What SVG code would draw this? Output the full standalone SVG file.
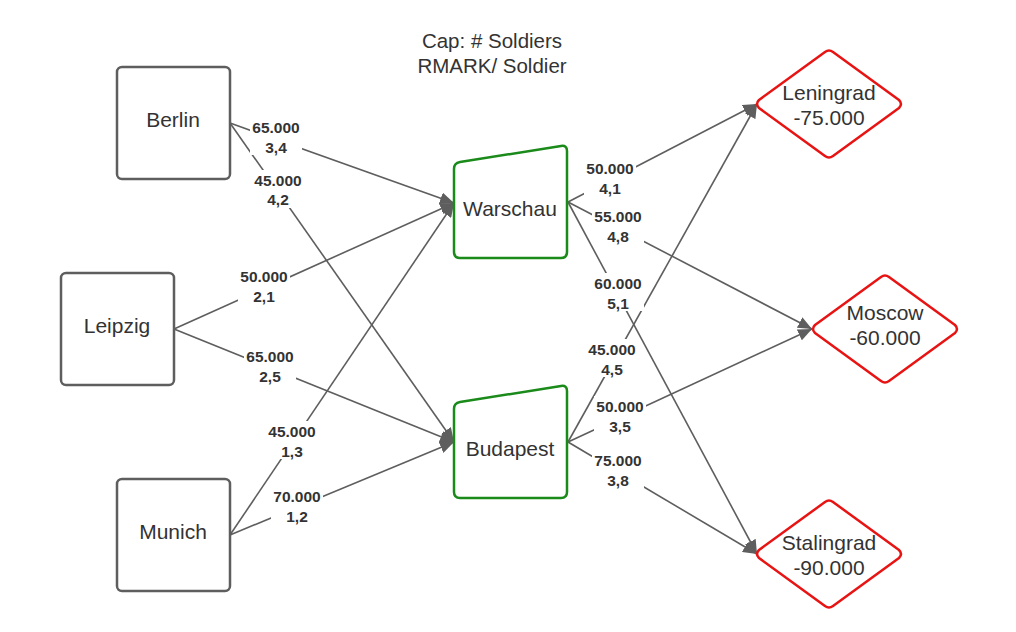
<svg xmlns="http://www.w3.org/2000/svg" width="1016" height="632" viewBox="0 0 1016 632">
<style>
.src{fill:#fff;stroke:#5e5e5e;stroke-width:2.5}
.hub{fill:#fff;stroke:#1a8a1a;stroke-width:2.5;stroke-linejoin:round}
.dst{fill:#fff;stroke:#e81313;stroke-width:2.5;stroke-linejoin:round}
.nt{font-family:"Liberation Sans",Arial,sans-serif;font-size:21px;fill:#333;text-anchor:middle}
.tt{font-family:"Liberation Sans",Arial,sans-serif;font-size:20.5px;fill:#333;text-anchor:middle}
.lt{font-family:"Liberation Sans",Arial,sans-serif;font-size:15.5px;font-weight:bold;fill:#333;text-anchor:middle}
.edge{stroke:#5e5e5e;stroke-width:1.6;fill:none;marker-end:url(#arr)}
.lb{fill:#fff}
</style>
<defs>
<marker id="arr" markerUnits="userSpaceOnUse" markerWidth="16" markerHeight="12" refX="14" refY="6" orient="auto">
<path d="M0,0 L14,6 L0,12 Z" fill="#5e5e5e"/>
</marker>
</defs>
<rect width="1016" height="632" fill="#fff"/>
<g id="title">
<text class="tt" x="492" y="48">Cap: # Soldiers</text>
<text class="tt" x="492" y="73">RMARK/ Soldier</text>
</g>
<g id="connectors">
<line class="edge" x1="230" y1="123" x2="454" y2="203"/>
<line class="edge" x1="230" y1="123" x2="454" y2="442"/>
<line class="edge" x1="174" y1="329" x2="454" y2="203"/>
<line class="edge" x1="174" y1="329" x2="454" y2="442"/>
<line class="edge" x1="230" y1="535" x2="454" y2="203"/>
<line class="edge" x1="230" y1="535" x2="454" y2="442"/>
<line class="edge" x1="568" y1="202" x2="757" y2="104"/>
<line class="edge" x1="568" y1="202" x2="812" y2="329"/>
<line class="edge" x1="568" y1="202" x2="757" y2="554"/>
<line class="edge" x1="568" y1="442" x2="757" y2="104"/>
<line class="edge" x1="568" y1="442" x2="812" y2="329"/>
<line class="edge" x1="568" y1="442" x2="757" y2="554"/>
<g id="labels">
<rect class="lb" x="250" y="117" width="52" height="38"/>
<text class="lt" x="276" y="133">65.000</text><text class="lt" x="276" y="153">3,4</text>
<rect class="lb" x="252" y="170" width="52" height="38"/>
<text class="lt" x="278" y="186">45.000</text><text class="lt" x="278" y="205">4,2</text>
<rect class="lb" x="238" y="266" width="52" height="38"/>
<text class="lt" x="264" y="282">50.000</text><text class="lt" x="264" y="302">2,1</text>
<rect class="lb" x="244" y="346" width="52" height="38"/>
<text class="lt" x="270" y="362">65.000</text><text class="lt" x="270" y="382">2,5</text>
<rect class="lb" x="266" y="421" width="52" height="38"/>
<text class="lt" x="292" y="437">45.000</text><text class="lt" x="292" y="457">1,3</text>
<rect class="lb" x="271" y="486" width="52" height="38"/>
<text class="lt" x="297" y="502">70.000</text><text class="lt" x="297" y="522">1,2</text>
<rect class="lb" x="584" y="158" width="52" height="38"/>
<text class="lt" x="610" y="174">50.000</text><text class="lt" x="610" y="194">4,1</text>
<rect class="lb" x="592" y="206" width="52" height="38"/>
<text class="lt" x="618" y="222">55.000</text><text class="lt" x="618" y="242">4,8</text>
<rect class="lb" x="592" y="273" width="52" height="38"/>
<text class="lt" x="618" y="289">60.000</text><text class="lt" x="618" y="309">5,1</text>
<rect class="lb" x="586" y="339" width="52" height="38"/>
<text class="lt" x="612" y="355">45.000</text><text class="lt" x="612" y="375">4,5</text>
<rect class="lb" x="594" y="396" width="52" height="38"/>
<text class="lt" x="620" y="412">50.000</text><text class="lt" x="620" y="432">3,5</text>
<rect class="lb" x="592" y="450" width="52" height="38"/>
<text class="lt" x="618" y="466">75.000</text><text class="lt" x="618" y="486">3,8</text>
</g>
</g>
<g id="berlin"><rect class="src" x="117" y="67" width="113" height="112" rx="5"/><text class="nt" x="173" y="127">Berlin</text></g>
<g id="leipzig"><rect class="src" x="61" y="273" width="113" height="112" rx="5"/><text class="nt" x="117" y="333">Leipzig</text></g>
<g id="munich"><rect class="src" x="117" y="479" width="113" height="112" rx="5"/><text class="nt" x="173" y="539">Munich</text></g>
<g id="warschau"><path class="hub" d="M454,169 Q454,163 460,162 L561,146 Q567,145 567,151 L567,252 Q567,258 561,258 L460,258 Q454,258 454,252 Z"/><text class="nt" x="510" y="216">Warschau</text></g>
<g id="budapest"><path class="hub" d="M454,409 Q454,403 460,402 L561,386 Q567,385 567,391 L567,492 Q567,498 561,498 L460,498 Q454,498 454,492 Z"/><text class="nt" x="510" y="456">Budapest</text></g>
<g id="leningrad"><path class="dst" d="M825,52 Q829,49 833,52 L899,100 Q903,104 899,108 L833,156 Q829,159 825,156 L759,108 Q755,104 759,100 Z"/><text class="nt" x="829" y="100">Leningrad</text><text class="nt" x="829" y="125">-75.000</text></g>
<g id="moscow"><path class="dst" d="M881,277 Q885,274 889,277 L955,325 Q959,329 955,333 L889,381 Q885,384 881,381 L815,333 Q811,329 815,325 Z"/><text class="nt" x="885" y="320">Moscow</text><text class="nt" x="885" y="345">-60.000</text></g>
<g id="stalingrad"><path class="dst" d="M825,502 Q829,499 833,502 L899,550 Q903,554 899,558 L833,606 Q829,609 825,606 L759,558 Q755,554 759,550 Z"/><text class="nt" x="829" y="550">Stalingrad</text><text class="nt" x="829" y="575">-90.000</text></g>
</svg>
